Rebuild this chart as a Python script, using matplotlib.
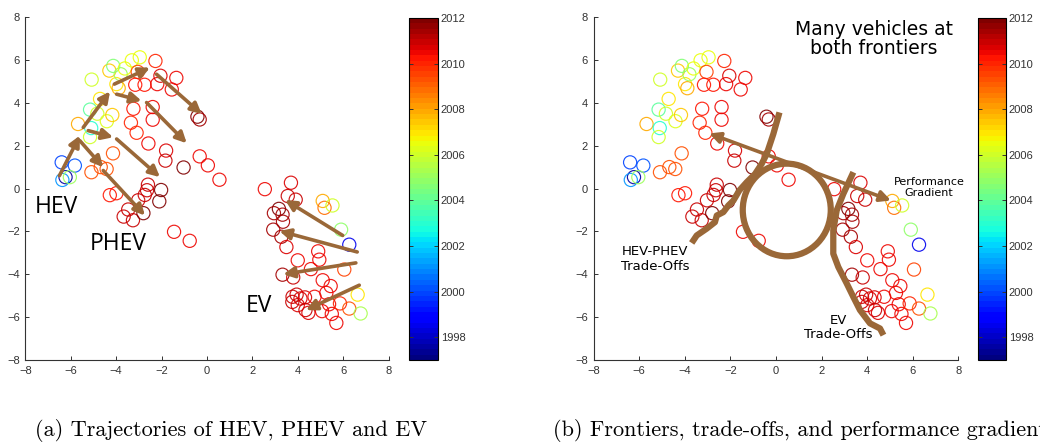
import numpy as np
import matplotlib
matplotlib.use('Agg')
import matplotlib.pyplot as plt
from matplotlib.patches import Ellipse
from matplotlib.colors import Normalize
from matplotlib.cm import ScalarMappable

# vehicles: position and model year (same cloud in both panels)
veh_x = [-6.40, -5.82, -6.23, -6.37, -6.04, -5.09, -4.68, -4.42, -4.14, -5.68,
         -5.10, -5.15, -5.15, -4.83, -4.41, -4.17, -4.71, -5.08, -4.30, -4.13,
         -3.99, -3.89, -3.80, -3.62, -3.31, -2.96, -2.27, -3.05, -3.16, -2.75,
         -2.19, -2.05, -1.35, -1.55, -3.24, -2.39, -2.39, -3.35, -3.10, -2.58,
         -0.42, -0.32, -1.80, -1.83, -1.03, -0.32, 0.04, 0.55, -4.28, -3.99,
         -2.60, -2.64, -2.74, -2.02, -2.10, -3.03, -3.47, -3.67, -3.26, -2.80,
         -1.45, -0.76,
         2.55, 3.70, 3.56, 3.91, 3.17, 2.95, 3.33, 3.35, 2.92, 3.28,
         3.50, 4.00, 4.90, 4.95, 4.58, 3.33, 3.80, 6.05, 5.10, 5.45,
         3.77, 3.95, 4.12, 4.32, 4.74, 5.26, 3.76, 4.00, 4.34, 4.47,
         5.07, 5.38, 5.50, 5.70, 5.86, 6.27, 5.10, 5.18, 5.53, 5.91,
         6.27, 6.64, 6.77]
veh_y = [1.22, 1.07, 0.53, 0.40, 0.53, 0.76, 1.00, 0.91, 1.64, 3.01,
         2.82, 2.40, 3.68, 3.49, 3.14, 3.43, 4.18, 5.08, 5.50, 5.72,
         4.87, 4.68, 5.33, 5.60, 5.98, 6.12, 5.95, 5.44, 4.84, 4.84,
         4.87, 5.26, 5.16, 4.62, 3.72, 3.80, 3.21, 3.07, 2.60, 2.10,
         3.35, 3.22, 1.77, 1.30, 0.98, 1.50, 1.08, 0.41, -0.31, -0.22,
         0.18, -0.08, -0.30, -0.07, -0.60, -0.55, -0.98, -1.31, -1.48, -1.15,
         -2.02, -2.44,
         -0.03, 0.27, -0.35, -0.52, -0.95, -1.15, -1.22, -1.55, -1.92, -2.25,
         -2.73, -3.35, -2.93, -3.32, -3.76, -4.02, -4.15, -3.78, -4.28, -4.55,
         -5.05, -4.95, -5.13, -5.08, -5.05, -4.87, -5.29, -5.44, -5.67, -5.80,
         -5.72, -5.40, -5.85, -6.27, -5.36, -5.60, -0.58, -0.90, -0.79, -1.92,
         -2.62, -4.95, -5.83]
veh_year = [2000.0, 2000.2, 1997.6, 2001.0, 2005.0, 2009.2, 2009.2, 2009.2, 2009.4, 2008.0,
            2003.0, 2006.0, 2004.0, 2006.0, 2006.3, 2007.5, 2007.0, 2006.0, 2007.5, 2004.5,
            2007.0, 2008.0, 2005.0, 2006.5, 2006.5, 2006.5, 2010.0, 2009.5, 2010.2, 2010.2,
            2010.4, 2010.6, 2010.4, 2010.4, 2010.2, 2010.4, 2010.4, 2010.0, 2010.0, 2010.4,
            2011.8, 2011.5, 2010.6, 2010.9, 2011.8, 2010.4, 2010.4, 2010.4, 2010.3, 2010.3,
            2010.9, 2011.0, 2010.9, 2011.8, 2011.8, 2011.0, 2011.0, 2011.0, 2010.9, 2011.8,
            2010.4, 2010.4,
            2010.4, 2010.6, 2011.0, 2011.0, 2011.8, 2011.5, 2011.5, 2011.5, 2011.3, 2011.3,
            2010.6, 2010.5, 2010.5, 2010.5, 2010.5, 2011.5, 2010.9, 2009.5, 2010.4, 2010.4,
            2011.0, 2011.0, 2010.6, 2010.6, 2010.5, 2010.4, 2011.0, 2010.6, 2011.0, 2010.6,
            2010.5, 2010.4, 2010.4, 2010.4, 2010.0, 2009.3, 2008.0, 2008.8, 2006.0, 2004.8,
            1998.5, 2007.0, 2005.3]

# (a) trajectory arrows: tail -> head
traj_x0 = [-6.50, -5.45, -4.08, -2.22, -3.98, -2.66, -5.23, -3.98, -5.60, -4.57,
           5.98, 6.62, 6.56, 6.71]
traj_y0 = [0.60, 2.85, 4.87, 5.33, 4.40, 4.01, 2.70, 2.31, 2.23, 0.84,
           -2.19, -2.96, -3.47, -4.51]
traj_x1 = [-5.60, -4.27, -2.51, -0.23, -2.88, -0.89, -4.13, -2.07, -4.57, -2.73,
           3.44, 3.19, 3.36, 4.36]
traj_y1 = [2.47, 4.53, 5.64, 3.47, 4.09, 2.11, 2.39, 0.53, 0.99, -1.26,
           -0.53, -1.98, -4.00, -5.67]

# (b) hand-drawn frontier strokes
hevphev_x = [-3.70, -3.48, -3.04, -2.68, -2.60, -2.31, -2.09, -1.87, -1.61, -1.29,
             -0.92, -0.63, -0.41, -0.12, 0.15]
hevphev_y = [-2.54, -2.19, -1.87, -1.57, -1.26, -1.10, -0.79, -0.56, -0.09, 0.29,
             0.68, 1.15, 1.61, 2.54, 3.55]
ev_x = [3.39, 2.95, 2.66, 2.51, 2.51, 2.73, 3.10, 3.39, 3.68, 4.12, 4.56, 4.71]
ev_y = [0.76, -0.25, -1.02, -1.95, -3.04, -3.66, -4.43, -5.06, -5.67, -6.29, -6.53, -6.84]
frontier_center = (0.47, -1.0)
frontier_w, frontier_h = 3.86, 4.32
grad_start = (-2.93, 2.57)
grad_end = (5.04, -0.56)

brown = '#9a6838'
tick_font = 'Liberation Sans'
norm = Normalize(1997, 2012)
cmap = plt.get_cmap('jet', 64)
edge_cols = cmap(norm(np.array(veh_year)))

fig = plt.figure(figsize=(10.4, 4.42), dpi=100)
ax1 = fig.add_axes([0.0244, 0.1855, 0.3492, 0.776])
ax2 = fig.add_axes([0.5708, 0.1855, 0.3508, 0.776])
cax1 = fig.add_axes([0.3933, 0.1855, 0.0279, 0.774])
cax2 = fig.add_axes([0.9404, 0.1855, 0.0269, 0.774])

for ax in (ax1, ax2):
    ax.scatter(veh_x, veh_y, s=90, facecolors='none', edgecolors=edge_cols,
               linewidths=0.85, alpha=0.9, zorder=2)
    ax.set_xlim(-8, 8)
    ax.set_ylim(-8, 8)
    ax.set_xticks(range(-8, 9, 2))
    ax.set_yticks(range(-8, 9, 2))
    ax.spines['top'].set_visible(False)
    ax.spines['right'].set_visible(False)
    for s in ('left', 'bottom'):
        ax.spines[s].set_color('#333333')
        ax.spines[s].set_linewidth(0.8)
    ax.tick_params(direction='in', length=3, width=0.7, colors='#333333',
                   labelsize=8, pad=4)
    for lab in ax.get_xticklabels() + ax.get_yticklabels():
        lab.set_fontfamily(tick_font)

for ax in (cax1, cax2):
    cb = fig.colorbar(ScalarMappable(norm=norm, cmap=cmap), cax=ax)
    cb.set_ticks(range(1998, 2013, 2))
    cb.outline.set_linewidth(0.8)
    ax.tick_params(direction='in', length=3, width=0.7, left=True, right=True,
                   labelsize=8, colors='#333333', pad=2)
    for lab in ax.get_yticklabels():
        lab.set_fontfamily(tick_font)

# panel (a)
for x0, y0, x1, y1 in zip(traj_x0, traj_y0, traj_x1, traj_y1):
    ax1.annotate('', xy=(x1, y1), xytext=(x0, y0),
                 arrowprops=dict(arrowstyle='-|>', color=brown, lw=2.6,
                                 mutation_scale=16, shrinkA=0, shrinkB=0),
                 zorder=3)
ax1.text(-7.6, -0.84, 'HEV', fontsize=16.5, family='Open Sans', va='center', ha='left')
ax1.text(-3.9, -2.6, 'PHEV', fontsize=16.5, family='Open Sans', va='center', ha='center')
ax1.text(2.3, -5.5, 'EV', fontsize=16.5, family='Open Sans', va='center', ha='center')

# panel (b)
ax2.plot(hevphev_x, hevphev_y, color=brown, lw=4.5, solid_capstyle='butt', zorder=3)
ax2.plot(ev_x, ev_y, color=brown, lw=4.5, solid_capstyle='butt', zorder=3)
ax2.add_patch(Ellipse(frontier_center, frontier_w, frontier_h, fill=False,
                      edgecolor=brown, lw=4.5, zorder=3))
ax2.annotate('', xy=grad_end, xytext=grad_start,
             arrowprops=dict(arrowstyle='<|-|>', color=brown, lw=2.6,
                             mutation_scale=16, shrinkA=0, shrinkB=0), zorder=3)
ax2.text(4.3, 6.98, 'Many vehicles at\nboth frontiers', fontsize=13.5, family='DejaVu Sans',
         ha='center', va='center', linespacing=1.05)
ax2.text(6.7, 0.05, 'Performance\nGradient', fontsize=8, family='DejaVu Sans',
         ha='center', va='center', linespacing=1.15)
ax2.text(-5.3, -3.29, 'HEV-PHEV\nTrade-Offs', fontsize=9.5, family='DejaVu Sans',
         ha='center', va='center', linespacing=1.15)
ax2.text(2.74, -6.49, 'EV\nTrade-Offs', fontsize=9.5, family='DejaVu Sans',
         ha='center', va='center', linespacing=1.15)

fig.text(35 / 1040, 0.025, '(a) Trajectories of HEV, PHEV and EV', family='cmr10',
         fontsize=16, va='center', ha='left')
fig.text(553 / 1040, 0.025, '(b) Frontiers, trade-offs, and performance gradients',
         family='cmr10', fontsize=16, va='center', ha='left')

fig.savefig('out.png', dpi=100)
